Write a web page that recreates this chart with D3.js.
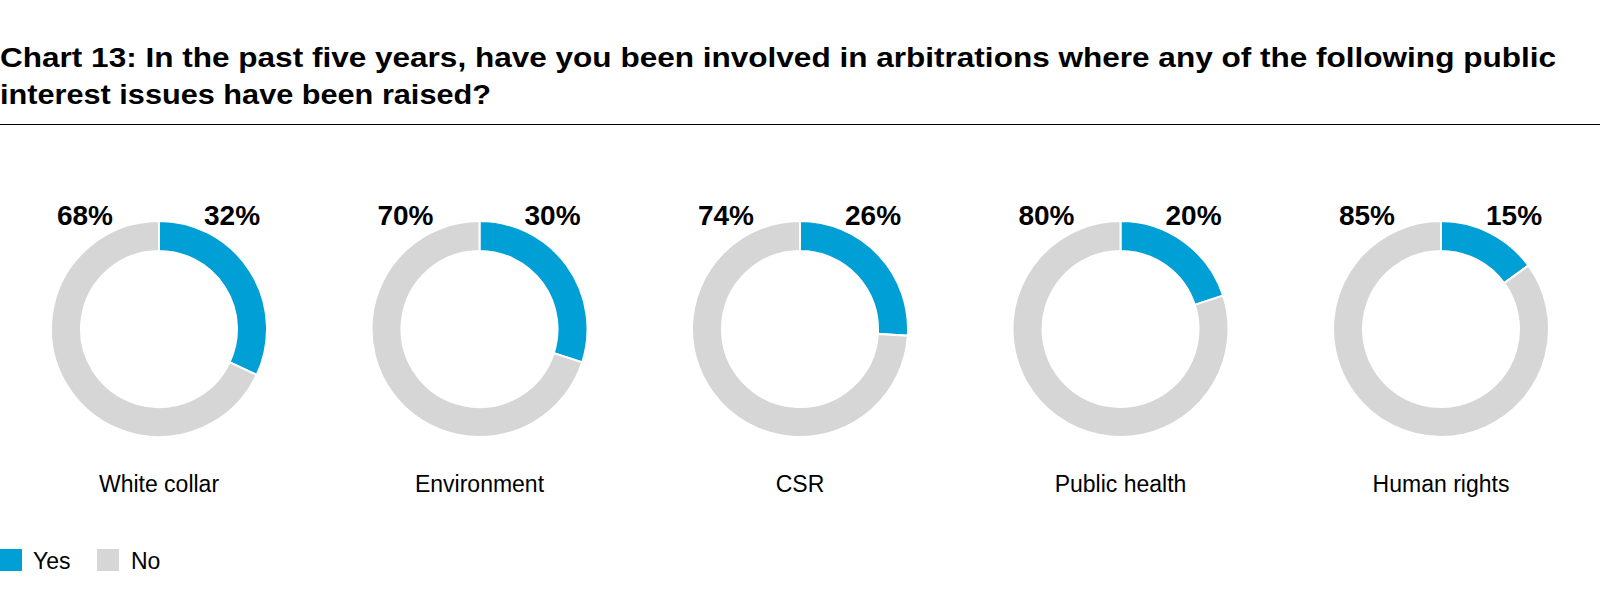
<!DOCTYPE html>
<html><head><meta charset="utf-8">
<script src="https://cdn.jsdelivr.net/npm/d3@7"></script>
<style>body{margin:0;background:#fff;font-family:"Liberation Sans",Arial,sans-serif}</style>
</head><body><svg id="c" width="1600" height="611"></svg>
<script>
const categories = ["White collar","Environment","CSR","Public health","Human rights"];
const yesValues = [32,30,26,20,15];
const noValues = [68,70,74,80,85];
const seriesNames = ["Yes","No"];
const colors = ["#009fd6","#d6d6d6"];

const svg = d3.select("#c");
svg.append("text").attr("x",0).attr("y",67).attr("font-size",28).attr("font-weight","bold").attr("fill","#000")
  .attr("textLength",1556).attr("lengthAdjust","spacingAndGlyphs")
  .text("Chart 13: In the past five years, have you been involved in arbitrations where any of the following public");
svg.append("text").attr("x",0).attr("y",104).attr("font-size",28).attr("font-weight","bold").attr("fill","#000")
  .attr("textLength",491).attr("lengthAdjust","spacingAndGlyphs")
  .text("interest issues have been raised?");
svg.append("line").attr("x1",0).attr("x2",1600).attr("y1",124.5).attr("y2",124.5).attr("stroke","#000").attr("stroke-width",1.2);

const x = d3.scalePoint().domain(categories).range([159,1441]);
const cy = 329;
const pie = d3.pie().sort(null).value(d=>d);
const arc = d3.arc().innerRadius(78).outerRadius(108);

categories.forEach((c,i)=>{
  const g = svg.append("g").attr("transform",`translate(${x(c)},${cy})`);
  g.selectAll("path").data(pie([yesValues[i],noValues[i]])).join("path")
    .attr("d",arc).attr("fill",(d,j)=>colors[j]).attr("stroke","#fff").attr("stroke-width",2);
  g.append("text").attr("x",45).attr("y",-104).attr("font-size",28).attr("font-weight","bold").text(yesValues[i]+"%");
  g.append("text").attr("x",-46).attr("y",-104).attr("text-anchor","end").attr("font-size",28).attr("font-weight","bold").text(noValues[i]+"%");
  g.append("text").attr("x",0).attr("y",163).attr("text-anchor","middle").attr("font-size",23).text(c);
});

const leg = [[0,33],[97,131]];
seriesNames.forEach((s,i)=>{
  svg.append("rect").attr("x",leg[i][0]).attr("y",549).attr("width",22).attr("height",22).attr("fill",colors[i]);
  svg.append("text").attr("x",leg[i][1]).attr("y",569).attr("font-size",23).text(s);
});
</script></body></html>
